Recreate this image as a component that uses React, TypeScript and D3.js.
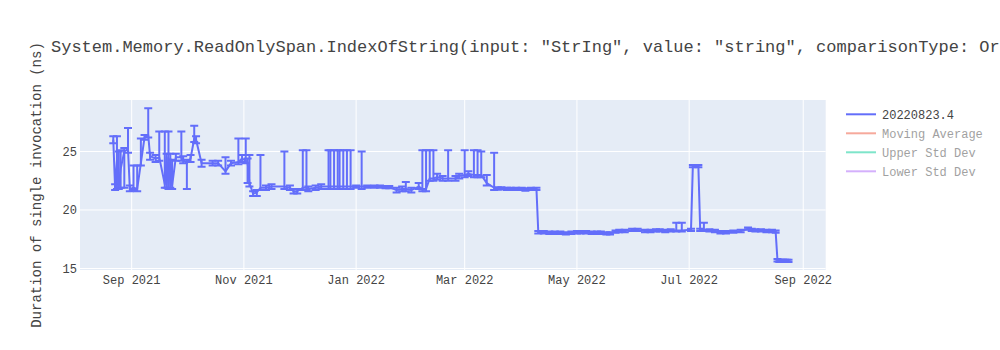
import React from "react";
import * as d3 from "d3";

const title =
  'System.Memory.ReadOnlySpan.IndexOfString(input: "StrIng", value: "string", comparisonType: OrdinalIgnoreCase)';
const yAxisTitle = "Duration of single invocation (ns)";
const legendNames = ["20220823.4", "Moving Average", "Upper Std Dev", "Lower Std Dev"];
const legendColors = ["#636efa", "#EF553B", "#00cc96", "#ab63fa"];
const legendVisible = [true, false, false, false];

const dates = [
  "2021-08-22", "2021-08-23", "2021-08-24", "2021-08-25", "2021-08-26", "2021-08-28", "2021-08-30", "2021-08-31",
  "2021-09-02", "2021-09-04", "2021-09-06", "2021-09-08", "2021-09-10", "2021-09-11", "2021-09-14", "2021-09-16",
  "2021-09-19", "2021-09-20", "2021-09-21", "2021-09-22", "2021-09-23", "2021-09-25", "2021-09-28", "2021-09-29",
  "2021-10-01", "2021-10-03", "2021-10-05", "2021-10-06", "2021-10-09", "2021-10-15", "2021-10-18", "2021-10-22",
  "2021-10-25", "2021-10-29", "2021-10-31", "2021-11-02", "2021-11-03", "2021-11-04", "2021-11-06", "2021-11-08",
  "2021-11-10", "2021-11-13", "2021-11-16", "2021-11-23", "2021-11-26", "2021-11-28", "2021-11-30", "2021-12-03",
  "2021-12-05", "2021-12-06", "2021-12-10", "2021-12-13", "2021-12-17", "2021-12-18", "2021-12-20", "2021-12-22",
  "2021-12-23", "2021-12-25", "2021-12-27", "2021-12-29", "2022-01-01", "2022-01-04", "2022-01-07", "2022-01-11",
  "2022-01-14", "2022-01-17", "2022-01-19", "2022-01-23", "2022-01-26", "2022-01-28", "2022-01-31", "2022-02-04",
  "2022-02-06", "2022-02-08", "2022-02-10", "2022-02-12", "2022-02-14", "2022-02-17", "2022-02-20", "2022-02-24",
  "2022-02-26", "2022-03-01", "2022-03-03", "2022-03-06", "2022-03-08", "2022-03-10", "2022-03-13", "2022-03-17",
  "2022-03-19", "2022-03-21", "2022-03-24", "2022-03-26", "2022-03-29", "2022-04-01", "2022-04-03", "2022-04-06",
  "2022-04-09", "2022-04-10", "2022-04-13", "2022-04-16", "2022-04-19", "2022-04-22", "2022-04-25", "2022-04-28",
  "2022-05-01", "2022-05-03", "2022-05-06", "2022-05-09", "2022-05-12", "2022-05-14", "2022-05-17", "2022-05-19",
  "2022-05-22", "2022-05-24", "2022-05-27", "2022-05-31", "2022-06-03", "2022-06-07", "2022-06-10", "2022-06-13",
  "2022-06-15", "2022-06-18", "2022-06-21", "2022-06-24", "2022-06-27", "2022-07-02", "2022-07-03", "2022-07-06",
  "2022-07-07", "2022-07-09", "2022-07-12", "2022-07-15", "2022-07-18", "2022-07-21", "2022-07-25", "2022-07-29",
  "2022-08-02", "2022-08-04", "2022-08-06", "2022-08-09", "2022-08-12", "2022-08-15", "2022-08-17", "2022-08-18",
  "2022-08-19", "2022-08-20", "2022-08-21", "2022-08-22", "2022-08-23", "2022-08-24",
];

const values = [
  26.0, 21.9, 24.2, 22.0, 23.5, 25.0, 25.2, 21.8,
  21.9, 21.8, 24.0, 26.2, 26.4, 24.6, 24.4, 24.5,
  22.2, 24.5, 22.0, 24.4, 22.1, 24.5, 24.5, 24.3,
  24.0, 24.4, 26.1, 26.0, 24.0, 24.0, 24.0, 23.3,
  24.0, 24.1, 24.4, 24.2, 24.1, 22.3, 21.4, 21.5,
  21.9, 21.9, 22.0, 22.0, 21.9, 21.6, 21.6, 21.9,
  21.9, 21.8, 21.9, 22.0, 22.0, 22.0, 22.0, 22.0,
  22.0, 22.0, 22.0, 22.0, 22.0, 22.0, 22.0, 22.0,
  22.0, 21.95, 21.95, 21.7, 21.8, 21.8, 21.7, 22.0,
  21.8, 21.8, 22.7, 22.7, 22.8, 22.7, 22.7, 22.7,
  22.9, 23.0, 23.1, 23.0, 23.0, 23.0, 22.3, 21.9,
  21.85, 21.85, 21.8, 21.8, 21.8, 21.8, 21.75, 21.8,
  21.8, 18.1, 18.1, 18.05, 18.05, 18.05, 18.0, 18.05,
  18.1, 18.1, 18.1, 18.05, 18.05, 18.05, 18.0, 18.0,
  18.15, 18.2, 18.2, 18.3, 18.3, 18.2, 18.2, 18.25,
  18.25, 18.2, 18.25, 18.25, 18.25, 18.3, 23.75, 23.75,
  18.3, 18.3, 18.25, 18.2, 18.1, 18.1, 18.15, 18.2,
  18.4, 18.3, 18.25, 18.25, 18.2, 18.2, 18.15, 15.7,
  15.65, 15.65, 15.65, 15.65, 15.65, 15.65,
];

const errorPlus = [
  0.3, 0.3, 2.1, 3.0, 1.6, 0.3, 1.8, 0.3,
  1.9, 2.0, 2.1, 0.2, 2.3, 0.3, 0.3, 2.2,
  4.5, 0.3, 4.7, 0.4, 2.2, 0.3, 2.2, 0.3,
  0.3, 0.3, 1.1, 0.3, 0.3, 0.2, 0.2, 1.2,
  0.2, 2.0, 0.3, 1.9, 0.3, 2.4, 0.2, 0.2,
  2.8, 0.2, 0.2, 3.0, 0.2, 0.2, 0.2, 3.2,
  3.2, 0.2, 0.2, 0.2, 3.1, 3.1, 3.1, 3.1,
  3.1, 3.1, 3.1, 3.1, 0.1, 3.0, 0.1, 0.1,
  0.1, 0.1, 0.1, 0.2, 0.2, 0.6, 0.2, 0.3,
  3.3, 3.3, 2.4, 2.4, 0.3, 0.2, 2.4, 0.2,
  0.2, 2.1, 0.2, 2.1, 2.1, 2.0, 0.7, 3.0,
  0.1, 0.1, 0.1, 0.1, 0.1, 0.1, 0.1, 0.1,
  0.1, 0.1, 0.1, 0.1, 0.1, 0.1, 0.1, 0.1,
  0.1, 0.1, 0.1, 0.1, 0.1, 0.1, 0.1, 0.1,
  0.1, 0.1, 0.1, 0.1, 0.1, 0.1, 0.1, 0.1,
  0.1, 0.1, 0.1, 0.65, 0.65, 0.1, 0.1, 0.1,
  0.1, 0.6, 0.1, 0.1, 0.1, 0.1, 0.1, 0.1,
  0.1, 0.1, 0.1, 0.1, 0.1, 0.1, 0.1, 0.1,
  0.1, 0.1, 0.1, 0.1, 0.1, 0.1,
];

const errorMinus = [
  0.3, 0.2, 2.4, 0.2, 1.6, 3.1, 0.3, 0.2,
  0.2, 0.2, 0.2, 0.2, 0.2, 0.3, 0.3, 0.3,
  0.3, 2.6, 0.2, 2.5, 0.3, 0.3, 0.3, 0.3,
  2.2, 0.3, 0.3, 0.3, 0.3, 0.2, 0.2, 0.2,
  0.2, 0.2, 0.3, 0.2, 1.8, 0.3, 0.2, 0.3,
  0.2, 0.2, 0.2, 0.2, 0.2, 0.2, 0.2, 0.2,
  0.2, 0.2, 0.2, 0.2, 0.2, 0.2, 0.2, 0.2,
  0.2, 0.2, 0.2, 0.2, 0.1, 0.2, 0.1, 0.1,
  0.1, 0.1, 0.1, 0.2, 0.2, 0.2, 0.2, 0.2,
  0.2, 0.2, 0.2, 0.2, 0.2, 0.2, 0.2, 0.2,
  0.2, 0.2, 0.2, 0.2, 0.2, 0.2, 0.2, 0.2,
  0.1, 0.1, 0.1, 0.1, 0.1, 0.1, 0.1, 0.1,
  0.1, 0.1, 0.1, 0.1, 0.1, 0.1, 0.1, 0.1,
  0.1, 0.1, 0.1, 0.1, 0.1, 0.1, 0.1, 0.1,
  0.1, 0.1, 0.1, 0.1, 0.1, 0.1, 0.1, 0.1,
  0.1, 0.1, 0.1, 0.1, 0.1, 0.1, 0.1, 0.1,
  0.1, 0.1, 0.1, 0.1, 0.1, 0.1, 0.1, 0.1,
  0.1, 0.1, 0.1, 0.1, 0.1, 0.1, 0.1, 0.1,
  0.1, 0.1, 0.1, 0.1, 0.1, 0.1,
];

const xTickDates = ["2021-09-01", "2021-11-01", "2022-01-01", "2022-03-01", "2022-05-01", "2022-07-01", "2022-09-01"];
const xTickLabels = ["Sep 2021", "Nov 2021", "Jan 2022", "Mar 2022", "May 2022", "Jul 2022", "Sep 2022"];
const yTicks = [15, 20, 25];

const W = 1000;
const H = 350;
const FONT = "'Liberation Mono', 'Courier New', monospace";

export default function App() {
  const parse = d3.timeParse("%Y-%m-%d");
  const left = 80;
  const right = 825.7;
  const top = 100;
  const bottom = 270;

  const x = d3
    .scaleTime()
    .domain([new Date(2021, 7, 3, 22), new Date(2022, 8, 13, 5)])
    .range([left, right]);
  const y = d3.scaleLinear().domain([14.87, 29.4]).range([bottom, top]);

  const pts = dates.map((d, i) => ({
    x: x(parse(d) as Date),
    v: values[i],
    ep: errorPlus[i],
    em: errorMinus[i],
  }));

  const line = d3
    .line<{ x: number; v: number }>()
    .x((p) => p.x)
    .y((p) => y(p.v));

  const color = "#636efa";
  const cap = 4;

  return (
    <svg width={W} height={H} style={{ display: "block", position: "absolute", left: 0, top: 0 }} fontFamily={FONT}>
      <rect x={0} y={0} width={W} height={H} fill="#fff" />
      <defs>
        <clipPath id="plotclip">
          <rect x={left} y={top} width={right - left} height={bottom - top} />
        </clipPath>
      </defs>
      <rect x={left} y={top} width={right - left} height={bottom - top} fill="#E5ECF6" />
      {xTickDates.map((d, i) => {
        const xx = x(parse(d) as Date);
        return <line key={"xg" + i} x1={xx} x2={xx} y1={top} y2={bottom} stroke="#fff" strokeWidth={1} />;
      })}
      {yTicks.map((t) => (
        <line key={"yg" + t} x1={left} x2={right} y1={y(t)} y2={y(t)} stroke="#fff" strokeWidth={1} />
      ))}
      <g clipPath="url(#plotclip)">
        <g stroke={color} strokeWidth={2} fill="none">
          {pts.map((p, i) => {
            const y1 = y(p.v + p.ep);
            const y2 = y(p.v - p.em);
            return (
              <path
                key={"eb" + i}
                d={`M${p.x - cap},${y1}H${p.x + cap}M${p.x},${y1}V${y2}M${p.x - cap},${y2}H${p.x + cap}`}
              />
            );
          })}
        </g>
        <path d={line(pts) || ""} fill="none" stroke={color} strokeWidth={2} strokeLinejoin="round" />
      </g>
      {yTicks.map((t) => (
        <text key={"yt" + t} x={77} y={y(t)} dy="0.35em" textAnchor="end" fontSize={12} fill="#444">
          {t}
        </text>
      ))}
      {xTickDates.map((d, i) => (
        <text key={"xt" + i} x={x(parse(d) as Date)} y={284} textAnchor="middle" fontSize={12} fill="#444">
          {xTickLabels[i]}
        </text>
      ))}
      <text x={51} y={52} fontSize={17} fill="#444">
        {title}
      </text>
      <text
        transform={`translate(41, ${(top + bottom) / 2}) rotate(-90)`}
        textAnchor="middle"
        fontSize={14}
        fill="#444"
      >
        {yAxisTitle}
      </text>
      {legendNames.map((n, i) => {
        const ly = 114.3 + i * 19;
        return (
          <g key={"lg" + i} opacity={legendVisible[i] ? 1 : 0.5}>
            <line x1={846} x2={876} y1={ly} y2={ly} stroke={legendColors[i]} strokeWidth={2} />
            <text x={882} y={ly} dy="0.35em" fontSize={12} fill="#444">
              {n}
            </text>
          </g>
        );
      })}
    </svg>
  );
}
